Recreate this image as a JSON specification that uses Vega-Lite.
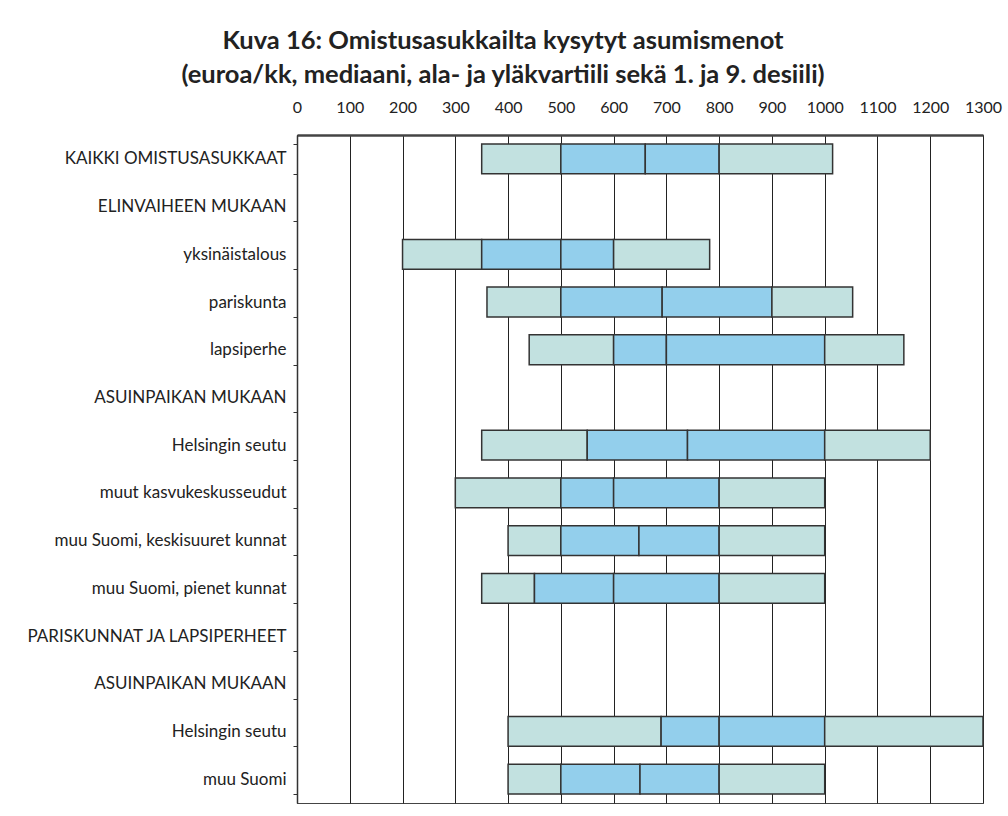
{
  "$schema": "https://vega.github.io/schema/vega-lite/v6.json",
  "autosize": {"type": "none"},
  "width": 686,
  "height": 668,
  "padding": {"left": 297, "top": 135, "right": 25, "bottom": 13},
  "background": "white",
  "title": {
    "text": ["Kuva 16: Omistusasukkailta kysytyt asumismenot", "(euroa/kk, mediaani, ala- ja yläkvartiili sekä 1. ja 9. desiili)"],
    "anchor": "middle",
    "dx": -137,
    "offset": 11,
    "font": "Lato",
    "fontSize": 25.5,
    "fontWeight": "bold",
    "color": "#222222",
    "lineHeight": 34
  },
  "config": {
    "view": {"stroke": "#444444", "strokeWidth": 1},
    "axis": {"labelFont": "Lato", "labelColor": "#222222"}
  },
  "data": {
    "values": [
      {"row": "01 KAIKKI OMISTUSASUKKAAT", "start": 350, "end": 500, "part": "outer"},
      {"row": "01 KAIKKI OMISTUSASUKKAAT", "start": 500, "end": 660, "part": "inner"},
      {"row": "01 KAIKKI OMISTUSASUKKAAT", "start": 660, "end": 800, "part": "inner"},
      {"row": "01 KAIKKI OMISTUSASUKKAAT", "start": 800, "end": 1015, "part": "outer"},
      {"row": "03 yksinäistalous", "start": 200, "end": 350, "part": "outer"},
      {"row": "03 yksinäistalous", "start": 350, "end": 500, "part": "inner"},
      {"row": "03 yksinäistalous", "start": 500, "end": 600, "part": "inner"},
      {"row": "03 yksinäistalous", "start": 600, "end": 782, "part": "outer"},
      {"row": "04 pariskunta", "start": 360, "end": 500, "part": "outer"},
      {"row": "04 pariskunta", "start": 500, "end": 692, "part": "inner"},
      {"row": "04 pariskunta", "start": 692, "end": 900, "part": "inner"},
      {"row": "04 pariskunta", "start": 900, "end": 1053, "part": "outer"},
      {"row": "05 lapsiperhe", "start": 440, "end": 600, "part": "outer"},
      {"row": "05 lapsiperhe", "start": 600, "end": 700, "part": "inner"},
      {"row": "05 lapsiperhe", "start": 700, "end": 1000, "part": "inner"},
      {"row": "05 lapsiperhe", "start": 1000, "end": 1150, "part": "outer"},
      {"row": "07 Helsingin seutu", "start": 350, "end": 550, "part": "outer"},
      {"row": "07 Helsingin seutu", "start": 550, "end": 740, "part": "inner"},
      {"row": "07 Helsingin seutu", "start": 740, "end": 1000, "part": "inner"},
      {"row": "07 Helsingin seutu", "start": 1000, "end": 1200, "part": "outer"},
      {"row": "08 muut kasvukeskusseudut", "start": 300, "end": 500, "part": "outer"},
      {"row": "08 muut kasvukeskusseudut", "start": 500, "end": 600, "part": "inner"},
      {"row": "08 muut kasvukeskusseudut", "start": 600, "end": 800, "part": "inner"},
      {"row": "08 muut kasvukeskusseudut", "start": 800, "end": 1000, "part": "outer"},
      {"row": "09 muu Suomi, keskisuuret kunnat", "start": 400, "end": 500, "part": "outer"},
      {"row": "09 muu Suomi, keskisuuret kunnat", "start": 500, "end": 648, "part": "inner"},
      {"row": "09 muu Suomi, keskisuuret kunnat", "start": 648, "end": 800, "part": "inner"},
      {"row": "09 muu Suomi, keskisuuret kunnat", "start": 800, "end": 1000, "part": "outer"},
      {"row": "10 muu Suomi, pienet kunnat", "start": 350, "end": 450, "part": "outer"},
      {"row": "10 muu Suomi, pienet kunnat", "start": 450, "end": 600, "part": "inner"},
      {"row": "10 muu Suomi, pienet kunnat", "start": 600, "end": 800, "part": "inner"},
      {"row": "10 muu Suomi, pienet kunnat", "start": 800, "end": 1000, "part": "outer"},
      {"row": "13 Helsingin seutu", "start": 400, "end": 690, "part": "outer"},
      {"row": "13 Helsingin seutu", "start": 690, "end": 800, "part": "inner"},
      {"row": "13 Helsingin seutu", "start": 800, "end": 1000, "part": "inner"},
      {"row": "13 Helsingin seutu", "start": 1000, "end": 1300, "part": "outer"},
      {"row": "14 muu Suomi", "start": 400, "end": 500, "part": "outer"},
      {"row": "14 muu Suomi", "start": 500, "end": 650, "part": "inner"},
      {"row": "14 muu Suomi", "start": 650, "end": 800, "part": "inner"},
      {"row": "14 muu Suomi", "start": 800, "end": 1000, "part": "outer"}
    ]
  },
  "mark": {"type": "bar", "stroke": "#333333", "strokeWidth": 1.5, "opacity": 1},
  "encoding": {
    "y": {
      "field": "row",
      "type": "nominal",
      "title": null,
      "scale": {
        "domain": ["01 KAIKKI OMISTUSASUKKAAT", "02 ELINVAIHEEN MUKAAN", "03 yksinäistalous", "04 pariskunta", "05 lapsiperhe", "06 ASUINPAIKAN MUKAAN", "07 Helsingin seutu", "08 muut kasvukeskusseudut", "09 muu Suomi, keskisuuret kunnat", "10 muu Suomi, pienet kunnat", "11 PARISKUNNAT JA LAPSIPERHEET", "12 ASUINPAIKAN MUKAAN", "13 Helsingin seutu", "14 muu Suomi"],
        "paddingInner": 0.375,
        "paddingOuter": 0.1875
      },
      "axis": {
        "labelExpr": "isString(datum.value) ? substring(datum.value, 3) : ''",
        "labelFontSize": 17,
        "labelPadding": 7,
        "labelLimit": 400,
        "tickBand": "extent",
        "tickSize": 4,
        "tickColor": "#333333",
        "domainColor": "#333333",
        "domainWidth": 1.5
      }
    },
    "x": {
      "field": "start",
      "type": "quantitative",
      "title": null,
      "scale": {"domain": [0, 1300], "nice": false},
      "axis": {
        "orient": "top",
        "values": [0, 100, 200, 300, 400, 500, 600, 700, 800, 900, 1000, 1100, 1200, 1300],
        "format": "d",
        "labelFontSize": 16,
        "labelPadding": 20,
        "ticks": false,
        "grid": true,
        "gridColor": "#222222",
        "gridWidth": 1,
        "gridOpacity": 1,
        "domainColor": "#444444",
        "domainWidth": 2.5,
        "labelFlush": false
      }
    },
    "x2": {"field": "end"},
    "color": {
      "field": "part",
      "type": "nominal",
      "scale": {"domain": ["outer", "inner"], "range": ["#c2e1e0", "#93cfec"]},
      "legend": null
    }
  }
}
